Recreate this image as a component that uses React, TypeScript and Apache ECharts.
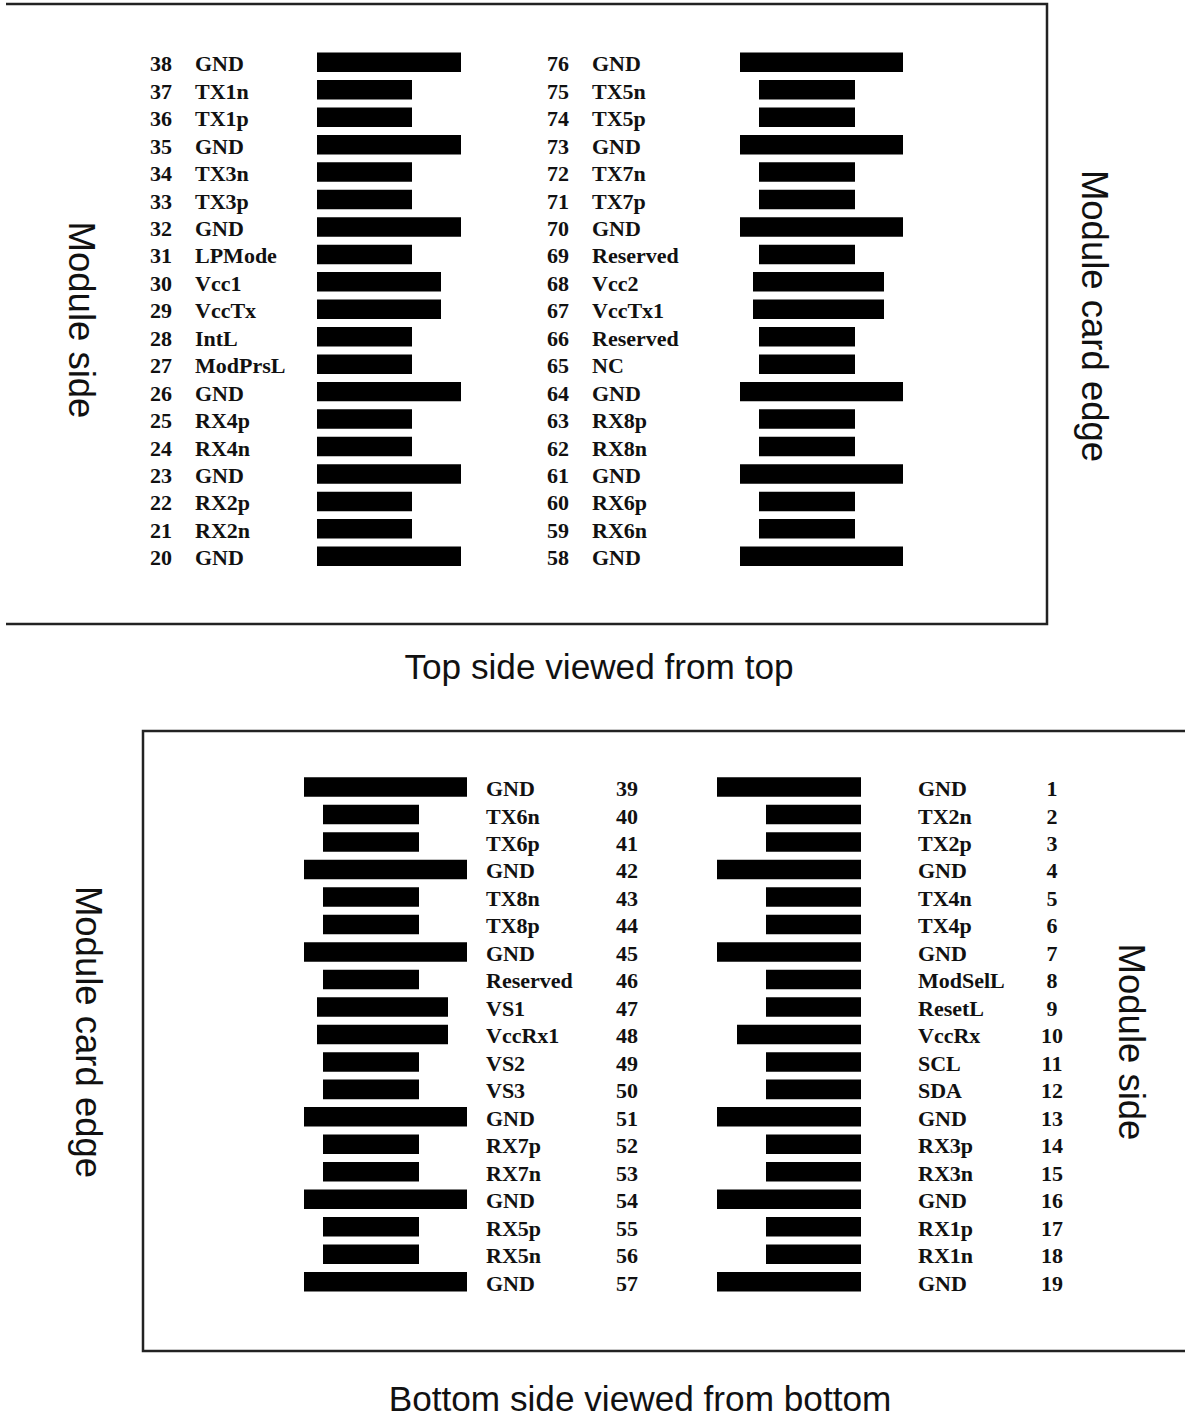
import React, { useEffect, useRef } from "react";
import * as echarts from "echarts";

// ---- Data: pin numbers, signal names, pad types (G = long ground pad, P = mid pad, S = short pad)
const topLeftNums = ["38", "37", "36", "35", "34", "33", "32", "31", "30", "29", "28", "27", "26", "25", "24", "23", "22", "21", "20"];
const topLeftNames = ["GND", "TX1n", "TX1p", "GND", "TX3n", "TX3p", "GND", "LPMode", "Vcc1", "VccTx", "IntL", "ModPrsL", "GND", "RX4p", "RX4n", "GND", "RX2p", "RX2n", "GND"];
const topLeftPads = ["G", "S", "S", "G", "S", "S", "G", "S", "P", "P", "S", "S", "G", "S", "S", "G", "S", "S", "G"];

const topRightNums = ["76", "75", "74", "73", "72", "71", "70", "69", "68", "67", "66", "65", "64", "63", "62", "61", "60", "59", "58"];
const topRightNames = ["GND", "TX5n", "TX5p", "GND", "TX7n", "TX7p", "GND", "Reserved", "Vcc2", "VccTx1", "Reserved", "NC", "GND", "RX8p", "RX8n", "GND", "RX6p", "RX6n", "GND"];
const topRightPads = ["G", "S", "S", "G", "S", "S", "G", "S", "P", "P", "S", "S", "G", "S", "S", "G", "S", "S", "G"];

const bottomLeftNums = ["39", "40", "41", "42", "43", "44", "45", "46", "47", "48", "49", "50", "51", "52", "53", "54", "55", "56", "57"];
const bottomLeftNames = ["GND", "TX6n", "TX6p", "GND", "TX8n", "TX8p", "GND", "Reserved", "VS1", "VccRx1", "VS2", "VS3", "GND", "RX7p", "RX7n", "GND", "RX5p", "RX5n", "GND"];
const bottomLeftPads = ["G", "S", "S", "G", "S", "S", "G", "S", "P", "P", "S", "S", "G", "S", "S", "G", "S", "S", "G"];

const bottomRightNums = ["1", "2", "3", "4", "5", "6", "7", "8", "9", "10", "11", "12", "13", "14", "15", "16", "17", "18", "19"];
const bottomRightNames = ["GND", "TX2n", "TX2p", "GND", "TX4n", "TX4p", "GND", "ModSelL", "ResetL", "VccRx", "SCL", "SDA", "GND", "RX3p", "RX3n", "GND", "RX1p", "RX1n", "GND"];
const bottomRightPads = ["G", "S", "S", "G", "S", "S", "G", "S", "S", "P", "S", "S", "G", "S", "S", "G", "S", "S", "G"];

// pad extents [start, end] along the pad (relative units)
const innerRowPad: Record<string, number[]> = { G: [0, 14.4], P: [0, 12.4], S: [0, 9.5] };
const outerRowPad: Record<string, number[]> = { G: [0, 16.3], P: [1.3, 14.4], S: [1.9, 11.5] };

const sideTitles = ["Top side viewed from top", "Bottom side viewed from bottom"];

const SERIF = '"Liberation Serif", "Times New Roman", serif';
const SANS = '"Liberation Sans", Arial, Helvetica, sans-serif';
const INK = "#111";

type Block = {
  nums: string[];
  names: string[];
  pads: string[];
  profile: Record<string, number[]>;
  left: number;
  top: number;
  width: number;
  height: number;
  max: number;
  inverse: boolean;
  axisPos: "left" | "right";
  margin: number;
  numW: number;
  numAlign: string;
  nameW: number;
};

const blocks: Block[] = [
  { nums: topLeftNums, names: topLeftNames, pads: topLeftPads, profile: innerRowPad, left: 317, top: 48.6, width: 144, height: 521.4, max: 14.4, inverse: false, axisPos: "left", margin: 0, numW: 45, numAlign: "left", nameW: 122 },
  { nums: topRightNums, names: topRightNames, pads: topRightPads, profile: outerRowPad, left: 740, top: 48.6, width: 163, height: 521.4, max: 16.3, inverse: false, axisPos: "left", margin: 0, numW: 45, numAlign: "left", nameW: 148 },
  { nums: bottomLeftNums, names: bottomLeftNames, pads: bottomLeftPads, profile: outerRowPad, left: 304, top: 773.3, width: 163, height: 522.2, max: 16.3, inverse: false, axisPos: "right", margin: 19, numW: 40, numAlign: "center", nameW: 121 },
  { nums: bottomRightNums, names: bottomRightNames, pads: bottomRightPads, profile: innerRowPad, left: 717, top: 773.3, width: 144, height: 522.2, max: 14.4, inverse: true, axisPos: "right", margin: 57, numW: 40, numAlign: "center", nameW: 114 },
];

function buildOption() {
  const grid: any[] = [];
  const xAxis: any[] = [];
  const yAxis: any[] = [];
  const series: any[] = [];

  blocks.forEach((b, i) => {
    grid.push({ left: b.left, top: b.top, width: b.width, height: b.height, outerBoundsMode: "none", containLabel: false });
    xAxis.push({
      type: "value",
      gridIndex: i,
      min: 0,
      max: b.max,
      inverse: b.inverse,
      show: false,
    });
    yAxis.push({
      type: "category",
      gridIndex: i,
      data: b.nums,
      inverse: true,
      position: b.axisPos,
      axisLine: { show: false },
      axisTick: { show: false },
      splitLine: { show: false },
      axisLabel: {
        interval: 0,
        margin: b.margin,
        formatter: (_v: string, idx: number) =>
          b.axisPos === "left"
            ? `{n|${b.nums[idx]}}{s|${b.names[idx]}}`
            : `{s|${b.names[idx]}}{n|${b.nums[idx]}}`,
        rich: {
          n: { width: b.numW, align: b.numAlign, fontFamily: SERIF, fontWeight: "bold", fontSize: 22, color: INK, padding: [3, 0, 0, 0] },
          s: { width: b.nameW, align: "left", fontFamily: SERIF, fontWeight: "bold", fontSize: 22, color: INK, padding: [3, 0, 0, 0] },
        },
      },
    });
    series.push({
      type: "custom",
      xAxisIndex: i,
      yAxisIndex: i,
      clip: false,
      encode: { x: [0, 1], y: 2 },
      data: b.pads.map((p, k) => [b.profile[p][0], b.profile[p][1], k]),
      renderItem: (_params: any, api: any) => {
        const s = api.coord([api.value(0), api.value(2)]);
        const e = api.coord([api.value(1), api.value(2)]);
        const h = api.size([0, 1])[1] * 0.71;
        return {
          type: "rect",
          shape: { x: Math.min(s[0], e[0]), y: s[1] - h / 2, width: Math.abs(e[0] - s[0]), height: h },
          style: { fill: "#000" },
        };
      },
    });
  });

  const lineStyle = { stroke: "#222", lineWidth: 2.5, fill: "none" };
  const sideText = (text: string, x: number, y: number, rot: number, size: number) => ({
    type: "text",
    x,
    y,
    rotation: rot,
    style: { text, x: 0, y: 0, fill: INK, font: `normal ${size}px ${SANS}`, textAlign: "center", textVerticalAlign: "middle", align: "center", verticalAlign: "middle" },
  });

  const graphic: any[] = [
    { type: "polyline", shape: { points: [[6, 4], [1047, 4], [1047, 624], [6, 624]] }, style: lineStyle },
    { type: "polyline", shape: { points: [[1185, 731], [143, 731], [143, 1351], [1185, 1351]] }, style: lineStyle },
    sideText(sideTitles[0], 599, 666, 0, 35.2),
    sideText(sideTitles[1], 640, 1398, 0, 35.2),
    sideText("Module side", 81, 320, -Math.PI / 2, 36.5),
    sideText("Module card edge", 1094, 316, -Math.PI / 2, 36.5),
    sideText("Module card edge", 88, 1032, -Math.PI / 2, 36.5),
    sideText("Module side", 1131, 1042, -Math.PI / 2, 36.5),
  ];

  return { animation: false, backgroundColor: "#fff", grid, xAxis, yAxis, series, graphic };
}

export default function App() {
  const ref = useRef<HTMLDivElement>(null);
  useEffect(() => {
    document.body.style.margin = "0";
    const chart = echarts.init(ref.current!, undefined, { renderer: "svg" });
    chart.setOption(buildOption() as any);
    return () => chart.dispose();
  }, []);
  return <div ref={ref} style={{ width: 1185, height: 1420 }} />;
}
